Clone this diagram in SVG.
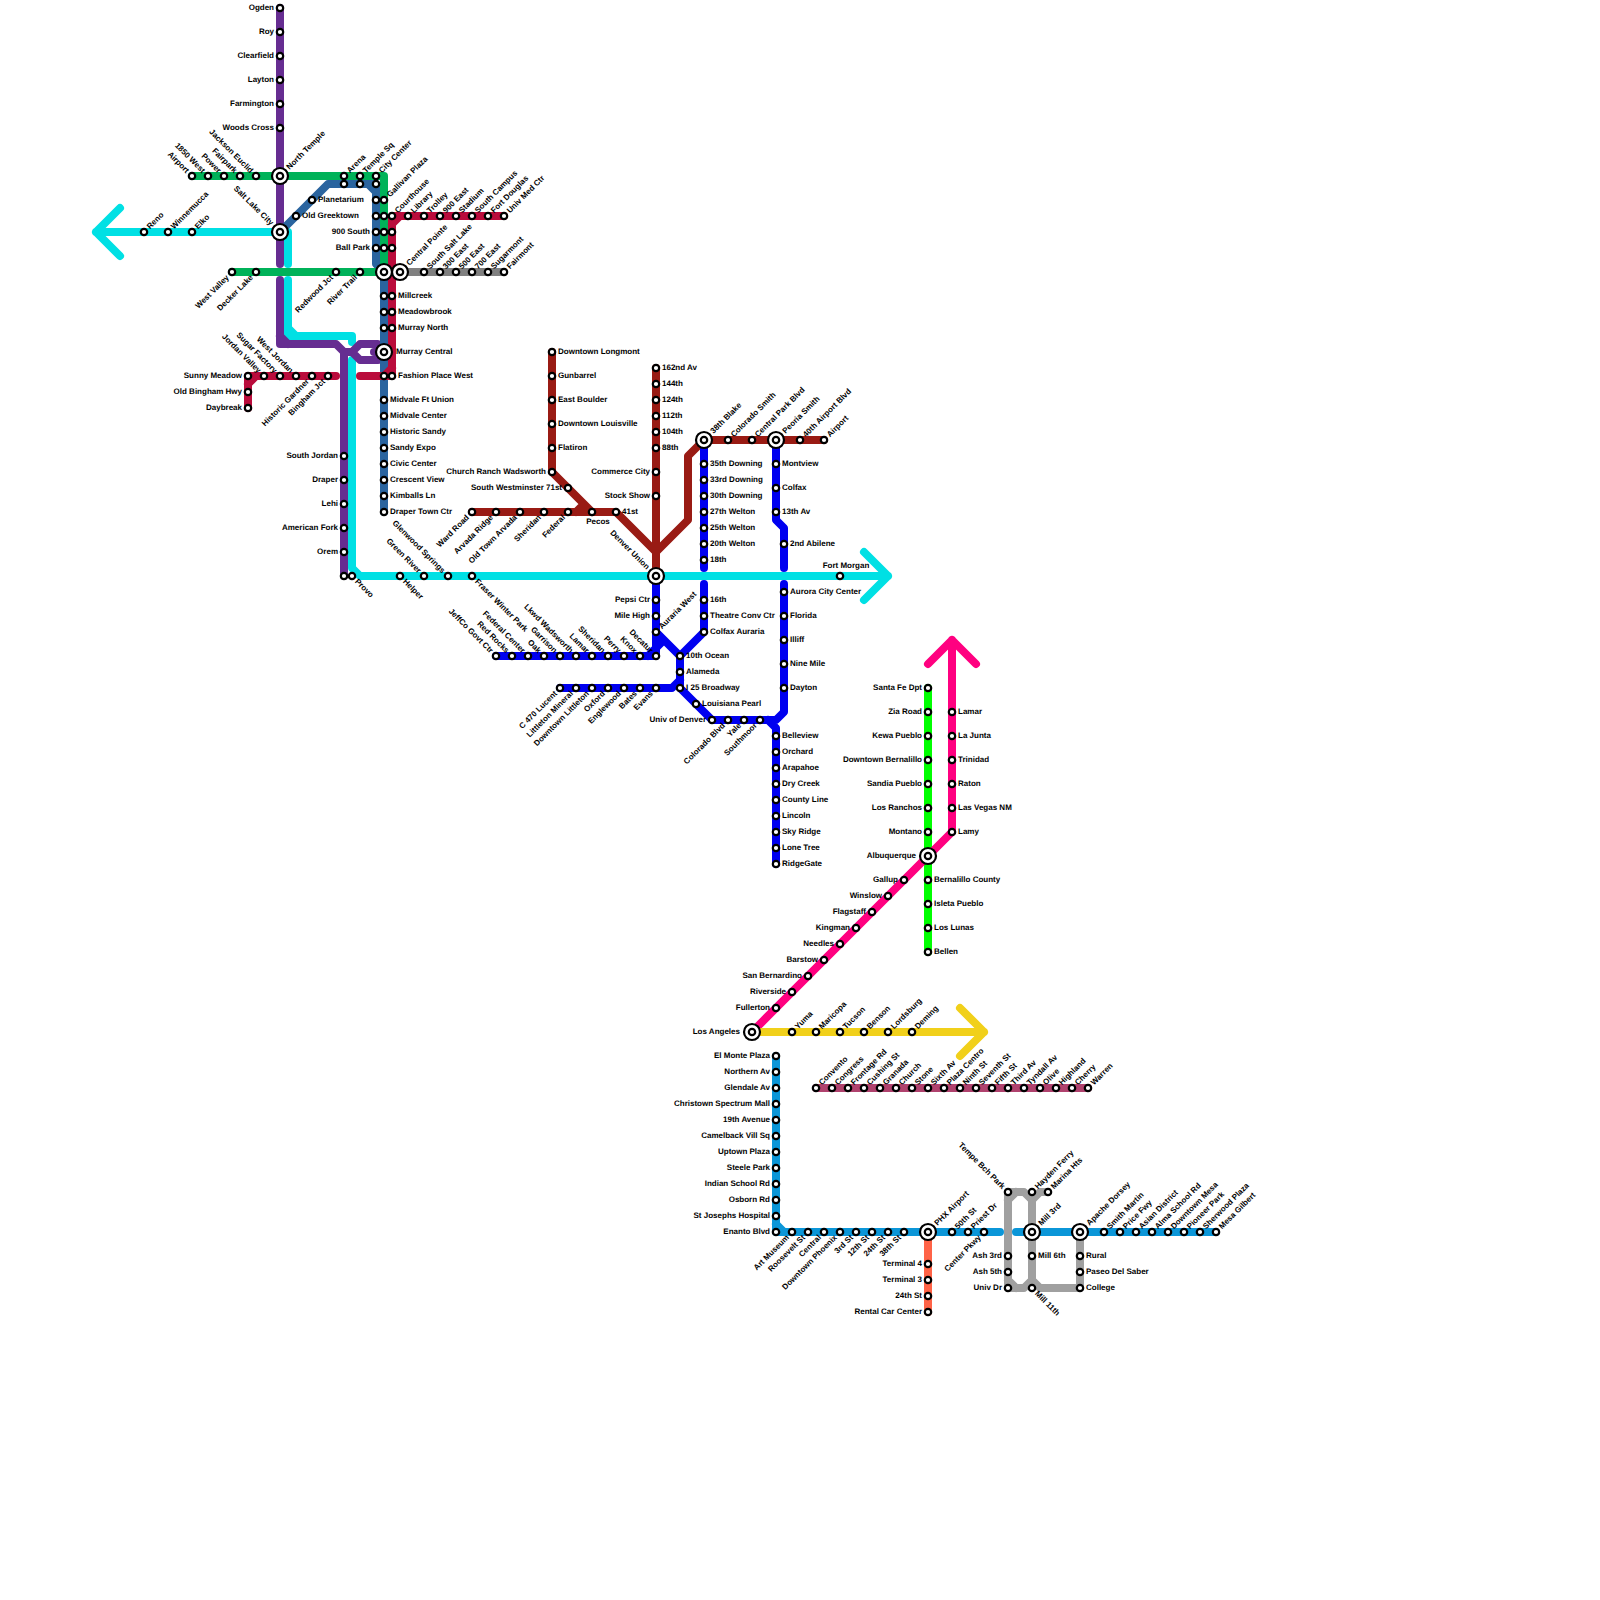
<svg xmlns="http://www.w3.org/2000/svg" width="1600" height="1600" viewBox="0 0 1600 1600">
<style>
text{font-family:"Liberation Sans",Arial,sans-serif;font-size:8px;font-weight:bold;fill:#000;text-rendering:geometricPrecision}
#lines path{fill:none;stroke-width:8;stroke-linecap:round;stroke-linejoin:round}
.s{fill:#fff;stroke:#000;stroke-width:2.2;r:3.2px}
.o{fill:#fff;stroke:#000;stroke-width:2.2;r:8px}
.r{transform:translate(6px,2.2px)}
.l{transform:translate(-6px,2.2px);text-anchor:end}
.ur{transform:rotate(-45deg) translate(6px,2.5px)}
.ul{transform:rotate(45deg) translate(-6px,2.5px);text-anchor:end}
.dl{transform:rotate(-45deg) translate(-6px,2.5px);text-anchor:end}
.dr{transform:rotate(45deg) translate(6px,2.5px)}
.iur{transform:rotate(-45deg) translate(11px,2.5px)}
.iul{transform:rotate(45deg) translate(-11px,2.5px);text-anchor:end}
.il{transform:translate(-12px,2.2px);text-anchor:end}
.ir{transform:translate(12px,2.2px)}
.up{transform:translate(6px,-8px);text-anchor:middle}
.dn{transform:translate(6px,12px);text-anchor:middle}
</style>
<g id="lines">
<path stroke="#00e0e4" d="M120,208L96,232L120,256M96,232H288V264M288,280V336H352V342M288,328L296,336M352,360V568L360,576H888M864,552L888,576L864,600"/>
<path stroke="#662d91" d="M280,8V264M280,280V344H336L344,352V576M280,336L288,344M344,352H352L360,344H378L384,352L378,360H360L352,352"/>
<path stroke="#662d91" d="M374,352H384"/>
<path stroke="#2a649f" d="M280,232L328,184H376V264L384,272V512M368,184L376,192"/>
<path stroke="#00b259" d="M192,176H376L384,176V272M232,272H384"/>
<path stroke="#808080" d="M400,272H504"/>
<path stroke="#ba0c3c" d="M248,408V376H336M248,384L256,376M360,376H392V216H504M384,376L392,368M392,224L400,216"/>
<path stroke="#991b14" d="M552,352V472L592,512M472,512H616L656,552V576M656,368V576M576,512L584,504M824,440H704L688,456V520L656,552"/>
<path stroke="#0000f0" d="M656,576V656H496M656,632L680,656V688L712,720H776L784,712V584M648,656L664,640M560,688H672L680,680M704,440V568M704,584V632L680,656M776,440V520L784,528V568M768,720L776,728V864"/>
<path stroke="#00ff00" d="M928,688V952"/>
<path stroke="#ff0080" d="M752,1032L952,832V640M928,664L952,640L976,664"/>
<path stroke="#f1d01a" d="M752,1032H984M960,1008L984,1032L960,1056"/>
<path stroke="#b0426e" d="M816,1088H1088"/>
<path stroke="#ff6347" d="M928,1232V1312"/>
<path stroke="#0b96d8" d="M776,1056V1232H1000M776,1224L784,1232M1016,1232H1216"/>
<path stroke="#a0a0a0" d="M1008,1288V1192H1024L1032,1200V1280L1024,1288H1008M1048,1192H1040L1032,1200M1008,1200L1016,1192M1008,1280L1016,1288M1032,1280L1040,1288H1080V1232"/>
</g>
<g id="n1" transform="translate(280 8)"><circle class="s"/><text class="l">Ogden</text></g>
<g id="n2" transform="translate(280 32)"><circle class="s"/><text class="l">Roy</text></g>
<g id="n3" transform="translate(280 56)"><circle class="s"/><text class="l">Clearfield</text></g>
<g id="n4" transform="translate(280 80)"><circle class="s"/><text class="l">Layton</text></g>
<g id="n5" transform="translate(280 104)"><circle class="s"/><text class="l">Farmington</text></g>
<g id="n6" transform="translate(280 128)"><circle class="s"/><text class="l">Woods Cross</text></g>
<g id="n7" transform="translate(280 176)"><circle class="o"/><circle class="s"/><text class="iur">North Temple</text></g>
<g id="n8" transform="translate(280 232)"><circle class="o"/><circle class="s"/><text class="iul">Salt Lake City</text></g>
<g id="n9" transform="translate(192 176)"><circle class="s"/><text class="ul">Airport</text></g>
<g id="n10" transform="translate(208 176)"><circle class="s"/><text class="ul">1850 West</text></g>
<g id="n11" transform="translate(224 176)"><circle class="s"/><text class="ul">Power</text></g>
<g id="n12" transform="translate(240 176)"><circle class="s"/><text class="ul">Fairpark</text></g>
<g id="n13" transform="translate(256 176)"><circle class="s"/><text class="ul">Jackson Euclid</text></g>
<g id="n14" transform="translate(344 176)"><circle class="s"/><text class="ur">Arena</text></g>
<g id="n15" transform="translate(360 176)"><circle class="s"/><text class="ur">Temple Sq</text></g>
<g id="n16" transform="translate(376 176)"><circle class="s"/><text class="ur">City Center</text></g>
<g id="n17" transform="translate(344 184)"><circle class="s"/></g>
<g id="n18" transform="translate(360 184)"><circle class="s"/></g>
<g id="n19" transform="translate(376 184)"><circle class="s"/></g>
<g id="n20" transform="translate(144 232)"><circle class="s"/><text class="ur">Reno</text></g>
<g id="n21" transform="translate(168 232)"><circle class="s"/><text class="ur">Winnemucca</text></g>
<g id="n22" transform="translate(192 232)"><circle class="s"/><text class="ur">Elko</text></g>
<g id="n23" transform="translate(312 200)"><circle class="s"/><text class="r">Planetarium</text></g>
<g id="n24" transform="translate(296 216)"><circle class="s"/><text class="r">Old Greektown</text></g>
<g id="n25" transform="translate(376 200)"><circle class="s"/></g>
<g id="n26" transform="translate(384 200)"><circle class="s"/><text class="ur">Gallivan Plaza</text></g>
<g id="n27" transform="translate(376 216)"><circle class="s"/></g>
<g id="n28" transform="translate(384 216)"><circle class="s"/></g>
<g id="n29" transform="translate(392 216)"><circle class="s"/><text class="ur">Courthouse</text></g>
<g id="n30" transform="translate(376 232)"><circle class="s"/><text class="l">900 South</text></g>
<g id="n31" transform="translate(384 232)"><circle class="s"/></g>
<g id="n32" transform="translate(392 232)"><circle class="s"/></g>
<g id="n33" transform="translate(376 248)"><circle class="s"/><text class="l">Ball Park</text></g>
<g id="n34" transform="translate(384 248)"><circle class="s"/></g>
<g id="n35" transform="translate(392 248)"><circle class="s"/></g>
<g id="n36" transform="translate(408 216)"><circle class="s"/><text class="ur">Library</text></g>
<g id="n37" transform="translate(424 216)"><circle class="s"/><text class="ur">Trolley</text></g>
<g id="n38" transform="translate(440 216)"><circle class="s"/><text class="ur">900 East</text></g>
<g id="n39" transform="translate(456 216)"><circle class="s"/><text class="ur">Stadium</text></g>
<g id="n40" transform="translate(472 216)"><circle class="s"/><text class="ur">South Campus</text></g>
<g id="n41" transform="translate(488 216)"><circle class="s"/><text class="ur">Fort Douglas</text></g>
<g id="n42" transform="translate(504 216)"><circle class="s"/><text class="ur">Univ Med Ctr</text></g>
<g id="n43" transform="translate(232 272)"><circle class="s"/><text class="dl">West Valley</text></g>
<g id="n44" transform="translate(256 272)"><circle class="s"/><text class="dl">Decker Lake</text></g>
<g id="n45" transform="translate(336 272)"><circle class="s"/><text class="dl">Redwood Jct</text></g>
<g id="n46" transform="translate(360 272)"><circle class="s"/><text class="dl">River Trail</text></g>
<g id="n47" transform="translate(384 272)"><circle class="o"/><circle class="s"/></g>
<g id="n48" transform="translate(400 272)"><circle class="o"/><circle class="s"/><text class="iur">Central Pointe</text></g>
<g id="n49" transform="translate(424 272)"><circle class="s"/><text class="ur">South Salt Lake</text></g>
<g id="n50" transform="translate(440 272)"><circle class="s"/><text class="ur">300 East</text></g>
<g id="n51" transform="translate(456 272)"><circle class="s"/><text class="ur">500 East</text></g>
<g id="n52" transform="translate(472 272)"><circle class="s"/><text class="ur">700 East</text></g>
<g id="n53" transform="translate(488 272)"><circle class="s"/><text class="ur">Sugarmont</text></g>
<g id="n54" transform="translate(504 272)"><circle class="s"/><text class="ur">Fairmont</text></g>
<g id="n55" transform="translate(384 296)"><circle class="s"/></g>
<g id="n56" transform="translate(392 296)"><circle class="s"/><text class="r">Millcreek</text></g>
<g id="n57" transform="translate(384 312)"><circle class="s"/></g>
<g id="n58" transform="translate(392 312)"><circle class="s"/><text class="r">Meadowbrook</text></g>
<g id="n59" transform="translate(384 328)"><circle class="s"/></g>
<g id="n60" transform="translate(392 328)"><circle class="s"/><text class="r">Murray North</text></g>
<g id="n61" transform="translate(384 352)"><circle class="o"/><circle class="s"/><text class="ir">Murray Central</text></g>
<g id="n62" transform="translate(384 376)"><circle class="s"/></g>
<g id="n63" transform="translate(392 376)"><circle class="s"/><text class="r">Fashion Place West</text></g>
<g id="n64" transform="translate(384 400)"><circle class="s"/><text class="r">Midvale Ft Union</text></g>
<g id="n65" transform="translate(384 416)"><circle class="s"/><text class="r">Midvale Center</text></g>
<g id="n66" transform="translate(384 432)"><circle class="s"/><text class="r">Historic Sandy</text></g>
<g id="n67" transform="translate(384 448)"><circle class="s"/><text class="r">Sandy Expo</text></g>
<g id="n68" transform="translate(384 464)"><circle class="s"/><text class="r">Civic Center</text></g>
<g id="n69" transform="translate(384 480)"><circle class="s"/><text class="r">Crescent View</text></g>
<g id="n70" transform="translate(384 496)"><circle class="s"/><text class="r">Kimballs Ln</text></g>
<g id="n71" transform="translate(384 512)"><circle class="s"/><text class="r">Draper Town Ctr</text></g>
<g id="n72" transform="translate(248 376)"><circle class="s"/><text class="l">Sunny Meadow</text></g>
<g id="n73" transform="translate(248 392)"><circle class="s"/><text class="l">Old Bingham Hwy</text></g>
<g id="n74" transform="translate(248 408)"><circle class="s"/><text class="l">Daybreak</text></g>
<g id="n75" transform="translate(264 376)"><circle class="s"/><text class="ul">Jordan Valley</text></g>
<g id="n76" transform="translate(280 376)"><circle class="s"/><text class="ul">Sugar Factory</text></g>
<g id="n77" transform="translate(296 376)"><circle class="s"/><text class="ul">West Jordan</text></g>
<g id="n78" transform="translate(312 376)"><circle class="s"/><text class="dl">Historic Gardner</text></g>
<g id="n79" transform="translate(328 376)"><circle class="s"/><text class="dl">Bingham Jct</text></g>
<g id="n80" transform="translate(344 456)"><circle class="s"/><text class="l">South Jordan</text></g>
<g id="n81" transform="translate(344 480)"><circle class="s"/><text class="l">Draper</text></g>
<g id="n82" transform="translate(344 504)"><circle class="s"/><text class="l">Lehi</text></g>
<g id="n83" transform="translate(344 528)"><circle class="s"/><text class="l">American Fork</text></g>
<g id="n84" transform="translate(344 552)"><circle class="s"/><text class="l">Orem</text></g>
<g id="n85" transform="translate(344 576)"><circle class="s"/></g>
<g id="n86" transform="translate(352 576)"><circle class="s"/><text class="dr">Provo</text></g>
<g id="n87" transform="translate(400 576)"><circle class="s"/><text class="dr">Helper</text></g>
<g id="n88" transform="translate(424 576)"><circle class="s"/><text class="ul">Green River</text></g>
<g id="n89" transform="translate(448 576)"><circle class="s"/><text class="ul">Glenwood Springs</text></g>
<g id="n90" transform="translate(472 576)"><circle class="s"/><text class="dr">Fraser Winter Park</text></g>
<g id="n91" transform="translate(840 576)"><circle class="s"/><text class="up">Fort Morgan</text></g>
<g id="n92" transform="translate(552 352)"><circle class="s"/><text class="r">Downtown Longmont</text></g>
<g id="n93" transform="translate(552 376)"><circle class="s"/><text class="r">Gunbarrel</text></g>
<g id="n94" transform="translate(552 400)"><circle class="s"/><text class="r">East Boulder</text></g>
<g id="n95" transform="translate(552 424)"><circle class="s"/><text class="r">Downtown Louisville</text></g>
<g id="n96" transform="translate(552 448)"><circle class="s"/><text class="r">Flatiron</text></g>
<g id="n97" transform="translate(552 472)"><circle class="s"/><text class="l">Church Ranch Wadsworth</text></g>
<g id="n98" transform="translate(568 488)"><circle class="s"/><text class="l">South Westminster 71st</text></g>
<g id="n99" transform="translate(472 512)"><circle class="s"/><text class="dl">Ward Road</text></g>
<g id="n100" transform="translate(496 512)"><circle class="s"/><text class="dl">Arvada Ridge</text></g>
<g id="n101" transform="translate(520 512)"><circle class="s"/><text class="dl">Old Town Arvada</text></g>
<g id="n102" transform="translate(544 512)"><circle class="s"/><text class="dl">Sheridan</text></g>
<g id="n103" transform="translate(568 512)"><circle class="s"/><text class="dl">Federal</text></g>
<g id="n104" transform="translate(592 512)"><circle class="s"/><text class="dn">Pecos</text></g>
<g id="n105" transform="translate(616 512)"><circle class="s"/><text class="r">41st</text></g>
<g id="n106" transform="translate(656 368)"><circle class="s"/><text class="r">162nd Av</text></g>
<g id="n107" transform="translate(656 384)"><circle class="s"/><text class="r">144th</text></g>
<g id="n108" transform="translate(656 400)"><circle class="s"/><text class="r">124th</text></g>
<g id="n109" transform="translate(656 416)"><circle class="s"/><text class="r">112th</text></g>
<g id="n110" transform="translate(656 432)"><circle class="s"/><text class="r">104th</text></g>
<g id="n111" transform="translate(656 448)"><circle class="s"/><text class="r">88th</text></g>
<g id="n112" transform="translate(656 472)"><circle class="s"/><text class="l">Commerce City</text></g>
<g id="n113" transform="translate(656 496)"><circle class="s"/><text class="l">Stock Show</text></g>
<g id="n114" transform="translate(656 576)"><circle class="o"/><circle class="s"/><text class="iul">Denver Union</text></g>
<g id="n115" transform="translate(656 600)"><circle class="s"/><text class="l">Pepsi Ctr</text></g>
<g id="n116" transform="translate(656 616)"><circle class="s"/><text class="l">Mile High</text></g>
<g id="n117" transform="translate(656 632)"><circle class="s"/><text class="ur">Auraria West</text></g>
<g id="n118" transform="translate(496 656)"><circle class="s"/><text class="ul">JeffCo Govt Ctr</text></g>
<g id="n119" transform="translate(512 656)"><circle class="s"/><text class="ul">Red Rocks</text></g>
<g id="n120" transform="translate(528 656)"><circle class="s"/><text class="ul">Federal Center</text></g>
<g id="n121" transform="translate(544 656)"><circle class="s"/><text class="ul">Oak</text></g>
<g id="n122" transform="translate(560 656)"><circle class="s"/><text class="ul">Garrison</text></g>
<g id="n123" transform="translate(576 656)"><circle class="s"/><text class="ul">Lkwd Wadsworth</text></g>
<g id="n124" transform="translate(592 656)"><circle class="s"/><text class="ul">Lamar</text></g>
<g id="n125" transform="translate(608 656)"><circle class="s"/><text class="ul">Sheridan</text></g>
<g id="n126" transform="translate(624 656)"><circle class="s"/><text class="ul">Perry</text></g>
<g id="n127" transform="translate(640 656)"><circle class="s"/><text class="ul">Knox</text></g>
<g id="n128" transform="translate(656 656)"><circle class="s"/><text class="ul">Decatur</text></g>
<g id="n129" transform="translate(560 688)"><circle class="s"/><text class="dl">C 470 Lucent</text></g>
<g id="n130" transform="translate(576 688)"><circle class="s"/><text class="dl">Littleton Mineral</text></g>
<g id="n131" transform="translate(592 688)"><circle class="s"/><text class="dl">Downtown Littleton</text></g>
<g id="n132" transform="translate(608 688)"><circle class="s"/><text class="dl">Oxford</text></g>
<g id="n133" transform="translate(624 688)"><circle class="s"/><text class="dl">Englewood</text></g>
<g id="n134" transform="translate(640 688)"><circle class="s"/><text class="dl">Bates</text></g>
<g id="n135" transform="translate(656 688)"><circle class="s"/><text class="dl">Evans</text></g>
<g id="n136" transform="translate(680 656)"><circle class="s"/><text class="r">10th Ocean</text></g>
<g id="n137" transform="translate(680 672)"><circle class="s"/><text class="r">Alameda</text></g>
<g id="n138" transform="translate(680 688)"><circle class="s"/><text class="r">I 25 Broadway</text></g>
<g id="n139" transform="translate(696 704)"><circle class="s"/><text class="r">Louisiana Pearl</text></g>
<g id="n140" transform="translate(712 720)"><circle class="s"/><text class="l">Univ of Denver</text></g>
<g id="n141" transform="translate(728 720)"><circle class="s"/><text class="dl">Colorado Blvd</text></g>
<g id="n142" transform="translate(744 720)"><circle class="s"/><text class="dl">Yale</text></g>
<g id="n143" transform="translate(760 720)"><circle class="s"/><text class="dl">Southmoor</text></g>
<g id="n144" transform="translate(704 440)"><circle class="o"/><circle class="s"/><text class="iur">38th Blake</text></g>
<g id="n145" transform="translate(728 440)"><circle class="s"/><text class="ur">Colorado Smith</text></g>
<g id="n146" transform="translate(752 440)"><circle class="s"/><text class="ur">Central Park Blvd</text></g>
<g id="n147" transform="translate(776 440)"><circle class="o"/><circle class="s"/><text class="iur">Peoria Smith</text></g>
<g id="n148" transform="translate(800 440)"><circle class="s"/><text class="ur">40th Airport Blvd</text></g>
<g id="n149" transform="translate(824 440)"><circle class="s"/><text class="ur">Airport</text></g>
<g id="n150" transform="translate(704 464)"><circle class="s"/><text class="r">35th Downing</text></g>
<g id="n151" transform="translate(704 480)"><circle class="s"/><text class="r">33rd Downing</text></g>
<g id="n152" transform="translate(704 496)"><circle class="s"/><text class="r">30th Downing</text></g>
<g id="n153" transform="translate(704 512)"><circle class="s"/><text class="r">27th Welton</text></g>
<g id="n154" transform="translate(704 528)"><circle class="s"/><text class="r">25th Welton</text></g>
<g id="n155" transform="translate(704 544)"><circle class="s"/><text class="r">20th Welton</text></g>
<g id="n156" transform="translate(704 560)"><circle class="s"/><text class="r">18th</text></g>
<g id="n157" transform="translate(704 600)"><circle class="s"/><text class="r">16th</text></g>
<g id="n158" transform="translate(704 616)"><circle class="s"/><text class="r">Theatre Conv Ctr</text></g>
<g id="n159" transform="translate(704 632)"><circle class="s"/><text class="r">Colfax Auraria</text></g>
<g id="n160" transform="translate(776 464)"><circle class="s"/><text class="r">Montview</text></g>
<g id="n161" transform="translate(776 488)"><circle class="s"/><text class="r">Colfax</text></g>
<g id="n162" transform="translate(776 512)"><circle class="s"/><text class="r">13th Av</text></g>
<g id="n163" transform="translate(784 544)"><circle class="s"/><text class="r">2nd Abilene</text></g>
<g id="n164" transform="translate(784 592)"><circle class="s"/><text class="r">Aurora City Center</text></g>
<g id="n165" transform="translate(784 616)"><circle class="s"/><text class="r">Florida</text></g>
<g id="n166" transform="translate(784 640)"><circle class="s"/><text class="r">Illiff</text></g>
<g id="n167" transform="translate(784 664)"><circle class="s"/><text class="r">Nine Mile</text></g>
<g id="n168" transform="translate(784 688)"><circle class="s"/><text class="r">Dayton</text></g>
<g id="n169" transform="translate(776 736)"><circle class="s"/><text class="r">Belleview</text></g>
<g id="n170" transform="translate(776 752)"><circle class="s"/><text class="r">Orchard</text></g>
<g id="n171" transform="translate(776 768)"><circle class="s"/><text class="r">Arapahoe</text></g>
<g id="n172" transform="translate(776 784)"><circle class="s"/><text class="r">Dry Creek</text></g>
<g id="n173" transform="translate(776 800)"><circle class="s"/><text class="r">County Line</text></g>
<g id="n174" transform="translate(776 816)"><circle class="s"/><text class="r">Lincoln</text></g>
<g id="n175" transform="translate(776 832)"><circle class="s"/><text class="r">Sky Ridge</text></g>
<g id="n176" transform="translate(776 848)"><circle class="s"/><text class="r">Lone Tree</text></g>
<g id="n177" transform="translate(776 864)"><circle class="s"/><text class="r">RidgeGate</text></g>
<g id="n178" transform="translate(928 688)"><circle class="s"/><text class="l">Santa Fe Dpt</text></g>
<g id="n179" transform="translate(928 712)"><circle class="s"/><text class="l">Zia Road</text></g>
<g id="n180" transform="translate(928 736)"><circle class="s"/><text class="l">Kewa Pueblo</text></g>
<g id="n181" transform="translate(928 760)"><circle class="s"/><text class="l">Downtown Bernalillo</text></g>
<g id="n182" transform="translate(928 784)"><circle class="s"/><text class="l">Sandia Pueblo</text></g>
<g id="n183" transform="translate(928 808)"><circle class="s"/><text class="l">Los Ranchos</text></g>
<g id="n184" transform="translate(928 832)"><circle class="s"/><text class="l">Montano</text></g>
<g id="n185" transform="translate(928 856)"><circle class="o"/><circle class="s"/><text class="il">Albuquerque</text></g>
<g id="n186" transform="translate(928 880)"><circle class="s"/><text class="r">Bernalillo County</text></g>
<g id="n187" transform="translate(928 904)"><circle class="s"/><text class="r">Isleta Pueblo</text></g>
<g id="n188" transform="translate(928 928)"><circle class="s"/><text class="r">Los Lunas</text></g>
<g id="n189" transform="translate(928 952)"><circle class="s"/><text class="r">Bellen</text></g>
<g id="n190" transform="translate(952 712)"><circle class="s"/><text class="r">Lamar</text></g>
<g id="n191" transform="translate(952 736)"><circle class="s"/><text class="r">La Junta</text></g>
<g id="n192" transform="translate(952 760)"><circle class="s"/><text class="r">Trinidad</text></g>
<g id="n193" transform="translate(952 784)"><circle class="s"/><text class="r">Raton</text></g>
<g id="n194" transform="translate(952 808)"><circle class="s"/><text class="r">Las Vegas NM</text></g>
<g id="n195" transform="translate(952 832)"><circle class="s"/><text class="r">Lamy</text></g>
<g id="n196" transform="translate(904 880)"><circle class="s"/><text class="l">Gallup</text></g>
<g id="n197" transform="translate(888 896)"><circle class="s"/><text class="l">Winslow</text></g>
<g id="n198" transform="translate(872 912)"><circle class="s"/><text class="l">Flagstaff</text></g>
<g id="n199" transform="translate(856 928)"><circle class="s"/><text class="l">Kingman</text></g>
<g id="n200" transform="translate(840 944)"><circle class="s"/><text class="l">Needles</text></g>
<g id="n201" transform="translate(824 960)"><circle class="s"/><text class="l">Barstow</text></g>
<g id="n202" transform="translate(808 976)"><circle class="s"/><text class="l">San Bernardino</text></g>
<g id="n203" transform="translate(792 992)"><circle class="s"/><text class="l">Riverside</text></g>
<g id="n204" transform="translate(776 1008)"><circle class="s"/><text class="l">Fullerton</text></g>
<g id="n205" transform="translate(752 1032)"><circle class="o"/><circle class="s"/><text class="il">Los Angeles</text></g>
<g id="n206" transform="translate(792 1032)"><circle class="s"/><text class="ur">Yuma</text></g>
<g id="n207" transform="translate(816 1032)"><circle class="s"/><text class="ur">Maricopa</text></g>
<g id="n208" transform="translate(840 1032)"><circle class="s"/><text class="ur">Tucson</text></g>
<g id="n209" transform="translate(864 1032)"><circle class="s"/><text class="ur">Benson</text></g>
<g id="n210" transform="translate(888 1032)"><circle class="s"/><text class="ur">Lordsburg</text></g>
<g id="n211" transform="translate(912 1032)"><circle class="s"/><text class="ur">Deming</text></g>
<g id="n212" transform="translate(776 1056)"><circle class="s"/><text class="l">El Monte Plaza</text></g>
<g id="n213" transform="translate(776 1072)"><circle class="s"/><text class="l">Northern Av</text></g>
<g id="n214" transform="translate(776 1088)"><circle class="s"/><text class="l">Glendale Av</text></g>
<g id="n215" transform="translate(776 1104)"><circle class="s"/><text class="l">Christown Spectrum Mall</text></g>
<g id="n216" transform="translate(776 1120)"><circle class="s"/><text class="l">19th Avenue</text></g>
<g id="n217" transform="translate(776 1136)"><circle class="s"/><text class="l">Camelback Vill Sq</text></g>
<g id="n218" transform="translate(776 1152)"><circle class="s"/><text class="l">Uptown Plaza</text></g>
<g id="n219" transform="translate(776 1168)"><circle class="s"/><text class="l">Steele Park</text></g>
<g id="n220" transform="translate(776 1184)"><circle class="s"/><text class="l">Indian School Rd</text></g>
<g id="n221" transform="translate(776 1200)"><circle class="s"/><text class="l">Osborn Rd</text></g>
<g id="n222" transform="translate(776 1216)"><circle class="s"/><text class="l">St Josephs Hospital</text></g>
<g id="n223" transform="translate(776 1232)"><circle class="s"/><text class="l">Enanto Blvd</text></g>
<g id="n224" transform="translate(792 1232)"><circle class="s"/><text class="dl">Art Museum</text></g>
<g id="n225" transform="translate(808 1232)"><circle class="s"/><text class="dl">Roosevelt St</text></g>
<g id="n226" transform="translate(824 1232)"><circle class="s"/><text class="dl">Central</text></g>
<g id="n227" transform="translate(840 1232)"><circle class="s"/><text class="dl">Downtown Phoenix</text></g>
<g id="n228" transform="translate(856 1232)"><circle class="s"/><text class="dl">3rd St</text></g>
<g id="n229" transform="translate(872 1232)"><circle class="s"/><text class="dl">12th St</text></g>
<g id="n230" transform="translate(888 1232)"><circle class="s"/><text class="dl">24th St</text></g>
<g id="n231" transform="translate(904 1232)"><circle class="s"/><text class="dl">38th St</text></g>
<g id="n232" transform="translate(928 1232)"><circle class="o"/><circle class="s"/><text class="iur">PHX Airport</text></g>
<g id="n233" transform="translate(952 1232)"><circle class="s"/><text class="ur">50th St</text></g>
<g id="n234" transform="translate(968 1232)"><circle class="s"/><text class="ur">Priest Dr</text></g>
<g id="n235" transform="translate(984 1232)"><circle class="s"/><text class="dl">Center Pkwy</text></g>
<g id="n236" transform="translate(928 1264)"><circle class="s"/><text class="l">Terminal 4</text></g>
<g id="n237" transform="translate(928 1280)"><circle class="s"/><text class="l">Terminal 3</text></g>
<g id="n238" transform="translate(928 1296)"><circle class="s"/><text class="l">24th St</text></g>
<g id="n239" transform="translate(928 1312)"><circle class="s"/><text class="l">Rental Car Center</text></g>
<g id="n240" transform="translate(1008 1192)"><circle class="s"/><text class="ul">Tempe Bch Park</text></g>
<g id="n241" transform="translate(1032 1192)"><circle class="s"/><text class="ur">Hayden Ferry</text></g>
<g id="n242" transform="translate(1048 1192)"><circle class="s"/><text class="ur">Marina Hts</text></g>
<g id="n243" transform="translate(1032 1232)"><circle class="o"/><circle class="s"/><text class="iur">Mill 3rd</text></g>
<g id="n244" transform="translate(1032 1256)"><circle class="s"/><text class="r">Mill 6th</text></g>
<g id="n245" transform="translate(1032 1288)"><circle class="s"/><text class="dr">Mill 11th</text></g>
<g id="n246" transform="translate(1008 1256)"><circle class="s"/><text class="l">Ash 3rd</text></g>
<g id="n247" transform="translate(1008 1272)"><circle class="s"/><text class="l">Ash 5th</text></g>
<g id="n248" transform="translate(1008 1288)"><circle class="s"/><text class="l">Univ Dr</text></g>
<g id="n249" transform="translate(1080 1232)"><circle class="o"/><circle class="s"/><text class="iur">Apache Dorsey</text></g>
<g id="n250" transform="translate(1080 1256)"><circle class="s"/><text class="r">Rural</text></g>
<g id="n251" transform="translate(1080 1272)"><circle class="s"/><text class="r">Paseo Del Saber</text></g>
<g id="n252" transform="translate(1080 1288)"><circle class="s"/><text class="r">College</text></g>
<g id="n253" transform="translate(1104 1232)"><circle class="s"/><text class="ur">Smith Martin</text></g>
<g id="n254" transform="translate(1120 1232)"><circle class="s"/><text class="ur">Price Fwy</text></g>
<g id="n255" transform="translate(1136 1232)"><circle class="s"/><text class="ur">Asian District</text></g>
<g id="n256" transform="translate(1152 1232)"><circle class="s"/><text class="ur">Alma School Rd</text></g>
<g id="n257" transform="translate(1168 1232)"><circle class="s"/><text class="ur">Downtown Mesa</text></g>
<g id="n258" transform="translate(1184 1232)"><circle class="s"/><text class="ur">Pioneer Park</text></g>
<g id="n259" transform="translate(1200 1232)"><circle class="s"/><text class="ur">Sherwood Plaza</text></g>
<g id="n260" transform="translate(1216 1232)"><circle class="s"/><text class="ur">Mesa Gilbert</text></g>
<g id="n261" transform="translate(816 1088)"><circle class="s"/><text class="ur">Convento</text></g>
<g id="n262" transform="translate(832 1088)"><circle class="s"/><text class="ur">Congress</text></g>
<g id="n263" transform="translate(848 1088)"><circle class="s"/><text class="ur">Frontage Rd</text></g>
<g id="n264" transform="translate(864 1088)"><circle class="s"/><text class="ur">Cushing St</text></g>
<g id="n265" transform="translate(880 1088)"><circle class="s"/><text class="ur">Granada</text></g>
<g id="n266" transform="translate(896 1088)"><circle class="s"/><text class="ur">Church</text></g>
<g id="n267" transform="translate(912 1088)"><circle class="s"/><text class="ur">Stone</text></g>
<g id="n268" transform="translate(928 1088)"><circle class="s"/><text class="ur">Sixth Av</text></g>
<g id="n269" transform="translate(944 1088)"><circle class="s"/><text class="ur">Plaza Centro</text></g>
<g id="n270" transform="translate(960 1088)"><circle class="s"/><text class="ur">Ninth St</text></g>
<g id="n271" transform="translate(976 1088)"><circle class="s"/><text class="ur">Seventh St</text></g>
<g id="n272" transform="translate(992 1088)"><circle class="s"/><text class="ur">Fifth St</text></g>
<g id="n273" transform="translate(1008 1088)"><circle class="s"/><text class="ur">Third Av</text></g>
<g id="n274" transform="translate(1024 1088)"><circle class="s"/><text class="ur">Tyndall Av</text></g>
<g id="n275" transform="translate(1040 1088)"><circle class="s"/><text class="ur">Olive</text></g>
<g id="n276" transform="translate(1056 1088)"><circle class="s"/><text class="ur">Highland</text></g>
<g id="n277" transform="translate(1072 1088)"><circle class="s"/><text class="ur">Cherry</text></g>
<g id="n278" transform="translate(1088 1088)"><circle class="s"/><text class="ur">Warren</text></g>
</svg>
